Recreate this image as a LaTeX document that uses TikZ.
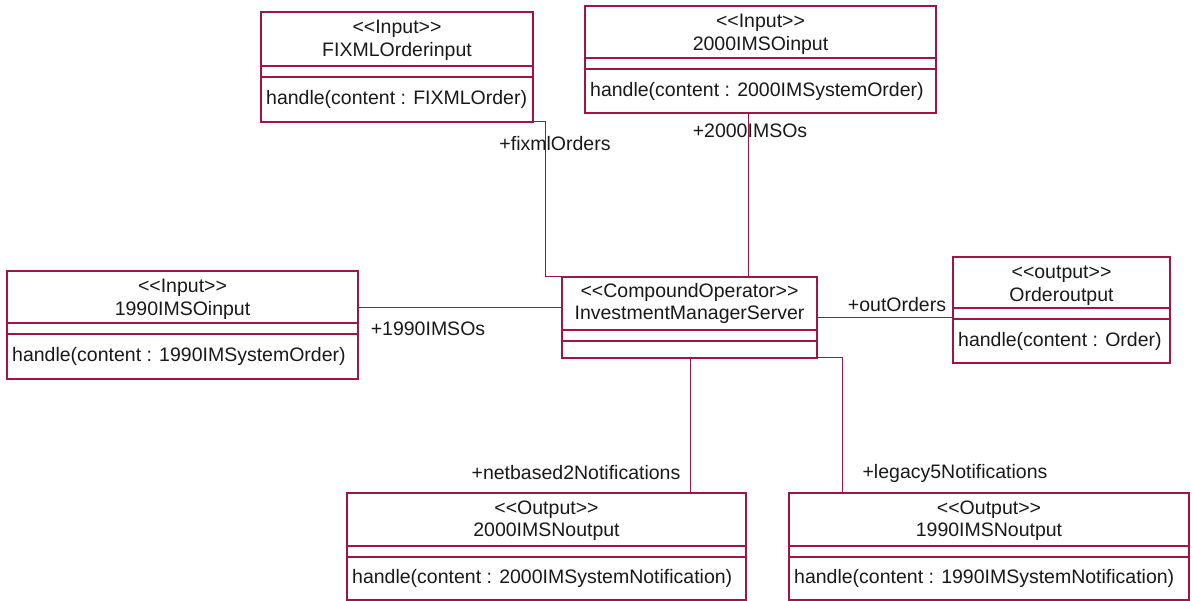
\documentclass[tikz,border=0pt]{standalone}
\usepackage{fontspec}
\setmainfont{Liberation Sans}[Ligatures=TeXOff]
\definecolor{umlred}{RGB}{160,20,70}
\definecolor{umltext}{RGB}{25,25,25}
\tikzset{
  clsbox/.style={draw=umlred, line width=1.5pt, fill=white, inner sep=0pt, outer sep=0pt},
  clsline/.style={draw=umlred, line width=1.2pt},
  clstext/.style={text=umltext, inner sep=0pt, font=\fontsize{19.5}{22}\selectfont},
  assoc/.style={draw=umlred, line width=1pt},
  rolelabel/.style={text=umltext, inner sep=0pt, font=\fontsize{19.5}{22}\selectfont}
}
% #1 name, #2 left, #3 top, #4 right, #5 first separator, #6 bottom, #7 stereotype, #8 class name, #9 operation
\newcommand\umlcls[9]{%
  \node[clsbox, minimum width={#4-#2}, minimum height={#6-#3}, anchor=north west] (#1) at (#2,#3) {};
  \draw[clsline] (#1.west |- 0,#5) -- (#1.east |- 0,#5);
  \draw[clsline] (#1.west |- 0,{#5+11}) -- (#1.east |- 0,{#5+11});
  \node[clstext] (#1-st) at ({(#2+#4)/2},{#3+17}) {<<#7>>};
  \node[clstext] (#1-nm) at ({(#2+#4)/2},{#3+39}) {#8};
  \node[clstext, anchor=west] (#1-op) at ({#2+5},{(#5+11+#6)/2}) {#9};
}
\begin{document}
\begin{tikzpicture}[x=1pt,y=-1pt]
\useasboundingbox (0,0) rectangle (1192,601);
\umlcls{fixml}{261}{12}{533}{66}{122}{Input}{FIXMLOrderinput}{handle(content : FIXMLOrder)}
\umlcls{imsoa}{585}{6}{936}{58}{113}{Input}{2000IMSOinput}{handle(content : 2000IMSystemOrder)}
\umlcls{imsob}{7}{271}{358}{323}{379}{Input}{1990IMSOinput}{handle(content : 1990IMSystemOrder)}
\umlcls{orderout}{953}{257}{1170}{308}{363}{output}{Orderoutput}{handle(content : Order)}
\umlcls{nouta}{347}{493}{746}{546}{600}{Output}{2000IMSNoutput}{handle(content : 2000IMSystemNotification)}
\umlcls{noutb}{789}{493}{1189}{546}{600}{Output}{1990IMSNoutput}{handle(content : 1990IMSystemNotification)}
% server
\node[clsbox, minimum width=255, minimum height=81, anchor=north west] (server) at (562,277) {};
\draw[clsline] (server.west |- 0,330) -- (server.east |- 0,330);
\draw[clsline] (server.west |- 0,341) -- (server.east |- 0,341);
\node[clstext] (server-st) at (689.5,292) {<<CompoundOperator>>};
\node[clstext] (server-nm) at (689.5,315) {InvestmentManagerServer};
% associations
\draw[assoc] (fixml.south east) -- ++(12,0) |- (server.north west);
\draw[assoc] (748,0 |- imsoa.south) -- (748,0 |- server.north);
\draw[assoc] (imsob.east |- 0,308) -- (server.west |- 0,308);
\draw[assoc] (server.east |- 0,318) -- (orderout.west |- 0,318);
\draw[assoc] (690,0 |- server.south) -- (690,0 |- nouta.north);
\draw[assoc] (server.south east) -- (842,0 |- server.south) -- (842,0 |- noutb.north);
% role labels
\node[rolelabel] (lfix) at (555,144) {+fixmlOrders};
\node[rolelabel] (lima) at (750,131) {+2000IMSOs};
\node[rolelabel] (limb) at (428,329) {+1990IMSOs};
\node[rolelabel] (lout) at (897,305) {+outOrders};
\node[rolelabel] (lnet) at (576,473) {+netbased2Notifications};
\node[rolelabel] (lleg) at (955,473) {+legacy5Notifications};
\end{tikzpicture}
\end{document}
